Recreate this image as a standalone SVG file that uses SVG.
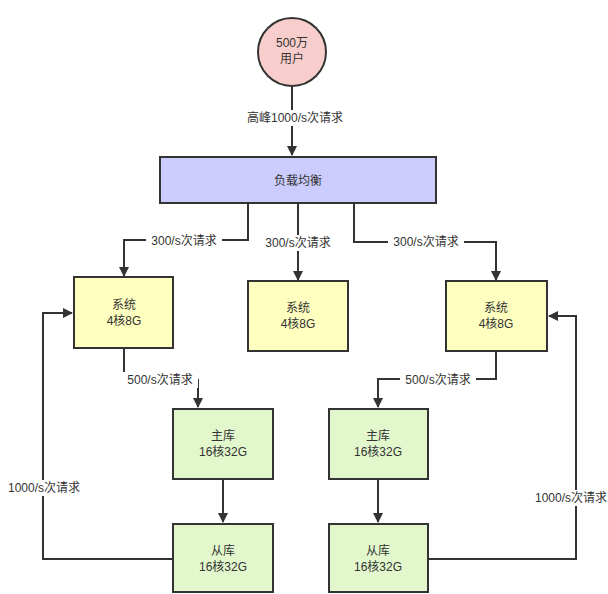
<svg xmlns="http://www.w3.org/2000/svg" width="608" height="594" viewBox="0 0 608 594">
<style>
text{font-family:"Liberation Sans","Noto Sans CJK SC",sans-serif;font-size:12px;fill:#333;text-anchor:middle}
.n{stroke:#333;stroke-width:2}
.c{fill:none;stroke:#333;stroke-width:2}
.lb{fill:#fff}
</style>
<defs><marker id="m" viewBox="0 0 10 10" refX="9" refY="5" markerWidth="10" markerHeight="12" orient="auto" markerUnits="userSpaceOnUse"><path d="M0 0L10 5L0 10z" fill="#333"/></marker></defs>
<rect width="608" height="594" fill="#fff"/>
<g id="connectors">
<path class="c" d="M292 86V155" marker-end="url(#m)"/>
<path class="c" d="M248 203V240H124V276" marker-end="url(#m)"/>
<path class="c" d="M298 203V280" marker-end="url(#m)"/>
<path class="c" d="M354 203V242H496V280" marker-end="url(#m)"/>
<path class="c" d="M124 348V380H198V407" marker-end="url(#m)"/>
<path class="c" d="M496 351V379H378V407" marker-end="url(#m)"/>
<path class="c" d="M223 479V522" marker-end="url(#m)"/>
<path class="c" d="M378 479V522" marker-end="url(#m)"/>
<path class="c" d="M173 559H43V313H72" marker-end="url(#m)"/>
<path class="c" d="M428 559H576V316H549" marker-end="url(#m)"/>
<rect class="lb" x="238" y="110" width="114" height="16"/><text x="295" y="122">高峰1000/s次请求</text>
<rect class="lb" x="146" y="233" width="76" height="16"/><text x="184" y="245">300/s次请求</text>
<rect class="lb" x="260" y="235" width="76" height="16"/><text x="298" y="247">300/s次请求</text>
<rect class="lb" x="388" y="234" width="76" height="16"/><text x="426" y="246">300/s次请求</text>
<rect class="lb" x="122" y="372" width="76" height="16"/><text x="160" y="384">500/s次请求</text>
<rect class="lb" x="400" y="372" width="76" height="16"/><text x="438" y="384">500/s次请求</text>
<rect class="lb" x="3" y="480" width="82" height="16"/><text x="44" y="492">1000/s次请求</text>
<rect class="lb" x="534" y="490" width="74" height="16"/><text x="571" y="502" font-size="11">1000/s次请求</text>
</g>
<g id="user"><circle class="n" cx="292" cy="52" r="34" fill="#f8cecc"/><text x="292" y="47">500万</text><text x="292" y="63">用户</text></g>
<g id="lb"><rect class="n" x="160" y="157" width="276" height="46" fill="#ccccff"/><text x="298" y="185">负载均衡</text></g>
<g id="sys1"><rect class="n" x="74" y="277" width="99" height="71" fill="#ffffc0"/><text x="124" y="309">系统</text><text x="124" y="325">4核8G</text></g>
<g id="sys2"><rect class="n" x="248" y="281" width="100" height="70" fill="#ffffc0"/><text x="298" y="312">系统</text><text x="298" y="328">4核8G</text></g>
<g id="sys3"><rect class="n" x="446" y="281" width="101" height="70" fill="#ffffc0"/><text x="496" y="312">系统</text><text x="496" y="328">4核8G</text></g>
<g id="master1"><rect class="n" x="173" y="409" width="100" height="70" fill="#e2f7cc"/><text x="223" y="440">主库</text><text x="223" y="456">16核32G</text></g>
<g id="master2"><rect class="n" x="329" y="409" width="99" height="70" fill="#e2f7cc"/><text x="378" y="440">主库</text><text x="378" y="456">16核32G</text></g>
<g id="slave1"><rect class="n" x="173" y="524" width="100" height="68" fill="#e2f7cc"/><text x="223" y="555">从库</text><text x="223" y="571">16核32G</text></g>
<g id="slave2"><rect class="n" x="329" y="524" width="99" height="68" fill="#e2f7cc"/><text x="378" y="555">从库</text><text x="378" y="571">16核32G</text></g>
</svg>
